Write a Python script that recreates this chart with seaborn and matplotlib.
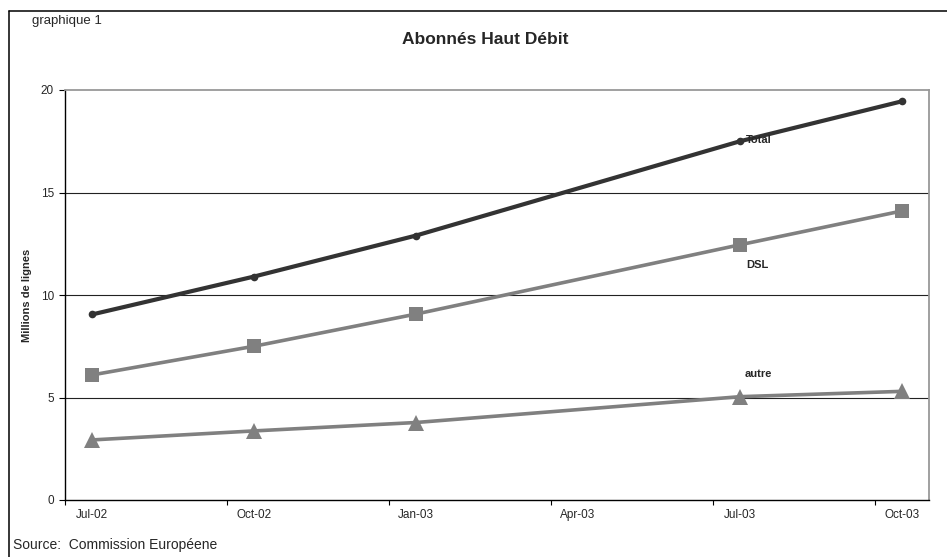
import matplotlib
matplotlib.use("Agg")
import matplotlib.pyplot as plt
from matplotlib.lines import Line2D
import seaborn as sns
import pandas as pd

# ---- data ----
dates = ["2002-07", "2002-10", "2003-01", "2003-07", "2003-10"]
total = [9.05, 10.9, 12.9, 17.5, 19.45]
dsl = [6.1, 7.5, 9.07, 12.45, 14.1]
autre = [2.93, 3.37, 3.78, 5.04, 5.3]

tick_months = ["2002-07", "2002-10", "2003-01", "2003-04", "2003-07", "2003-10"]
tick_labels = ["Jul-02", "Oct-02", "Jan-03", "Apr-03", "Jul-03", "Oct-03"]
yticks = [0, 5, 10, 15, 20]

title = "Abonnés Haut Débit"
ylabel = "Millions de lignes"
source = "Source:  Commission Européene"
top_note = "graphique 1"

# ---- style ----
sns.set_style("white")
plt.rcParams["font.family"] = ["Liberation Sans", "DejaVu Sans"]


def month_index(strings):
    d = pd.to_datetime(strings)
    base = pd.Timestamp(dates[0])
    return list((d.year - base.year) * 12 + (d.month - base.month))


mx = month_index(dates)
tx = month_index(tick_months)

df = pd.DataFrame({"m": mx * 3,
                   "value": total + dsl + autre,
                   "series": ["Total"] * 5 + ["DSL"] * 5 + ["autre"] * 5})

fig = plt.figure(figsize=(9.47, 5.57), dpi=100)
ax = fig.add_axes([65 / 947, 1 - 500 / 557, (929 - 65) / 947, (500 - 90) / 557])

styles = {
    "Total": dict(color="#333333", lw=3.0, marker="o", ms=5.5),
    "DSL": dict(color="#808080", lw=2.6, marker="s", ms=10.0),
    "autre": dict(color="#808080", lw=2.6, marker="^", ms=11.0),
}
order = ["autre", "DSL", "Total"]
for name in order:
    st = styles[name]
    sub = df[df["series"] == name]
    sns.lineplot(data=sub, x="m", y="value", ax=ax, color=st["color"],
                 lw=st["lw"], marker=st["marker"], markersize=st["ms"],
                 markeredgewidth=0, legend=False, zorder=3)

ax.set_xlim(tx[0] - 0.5, tx[-1] + 0.5)
ax.set_ylim(yticks[0], yticks[-1])

# gridlines
for yv in yticks[1:-1]:
    ax.axhline(yv, color="#222222", lw=0.8, zorder=1)

# x axis: ticks at quarter boundaries, labels centred on months
ax.set_xticks([t - 0.5 for t in tx])
ax.set_xticklabels([])
ax.set_xticks(tx, minor=True)
ax.set_xticklabels(tick_labels, minor=True, fontsize=8.5)
ax.tick_params(axis="x", which="major", direction="out", length=3.5,
               width=0.8, color="black", bottom=True)
ax.tick_params(axis="x", which="minor", length=0, pad=6.5)

ax.set_yticks(yticks)
ax.set_yticklabels([str(v) for v in yticks], fontsize=8.5)
ax.tick_params(axis="y", direction="out", length=4.3, width=0.8,
               color="black", pad=3.6, left=True)

ax.set_xlabel("")
ax.set_ylabel(ylabel, fontsize=8, fontweight="bold")
ax.yaxis.set_label_coords(-(65 - 32) / 864, 0.5)

for side in ["left", "bottom"]:
    ax.spines[side].set_color("black")
    ax.spines[side].set_linewidth(1.0)
for side in ["top", "right"]:
    ax.spines[side].set_color("#999999")
    ax.spines[side].set_linewidth(1.3)
    ax.spines[side].set_visible(True)

# series labels next to the Jul-03 points
label_idx = 3
ax.annotate("Total", xy=(mx[label_idx], total[label_idx]), xytext=(4.3, 1),
            textcoords="offset points", fontsize=8, fontweight="bold",
            ha="left", va="center", zorder=5)
ax.annotate("DSL", xy=(mx[label_idx], dsl[label_idx]), xytext=(4.3, -14.4),
            textcoords="offset points", fontsize=8, fontweight="bold",
            ha="left", va="center", zorder=5)
ax.annotate("autre", xy=(mx[label_idx], autre[label_idx]), xytext=(3.6, 16.3),
            textcoords="offset points", fontsize=8, fontweight="bold",
            ha="left", va="center", zorder=5)

# figure texts
fig.text(485 / 947, 1 - 40 / 557, title, ha="center", va="center",
         fontsize=12.5, fontweight="bold")
fig.text(32 / 947, 1 - 21 / 557, top_note, ha="left", va="center", fontsize=9.5)
fig.text(13 / 947, 1 - 545 / 557, source, ha="left", va="center", fontsize=10)

# frame (left and top edges)
fig.add_artist(Line2D([9 / 947, 9 / 947], [0, 1 - 11 / 557],
                      transform=fig.transFigure, color="black", lw=1.1))
fig.add_artist(Line2D([9 / 947, 1], [1 - 11 / 557, 1 - 11 / 557],
                      transform=fig.transFigure, color="black", lw=1.1))

fig.savefig("out.png", dpi=100)
